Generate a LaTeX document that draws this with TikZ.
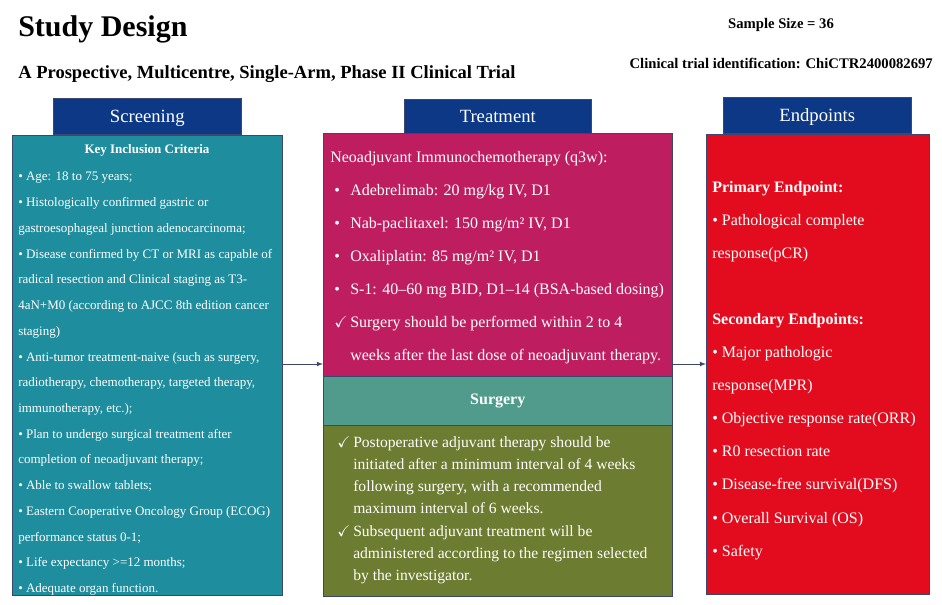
\documentclass[tikz,border=0pt]{standalone}
\usepackage{amsmath}
\usepackage{amssymb}
\usepackage{xcolor}
\usepackage{fontspec}
\setmainfont{Liberation Serif}
\usepackage{tikz}

\definecolor{tabblue}{RGB}{12,56,134}
\definecolor{scrteal}{RGB}{30,141,158}
\definecolor{trtpink}{RGB}{190,30,96}
\definecolor{surgteal}{RGB}{80,155,140}
\definecolor{surgolive}{RGB}{108,124,48}
\definecolor{endred}{RGB}{226,12,30}
\definecolor{edge}{RGB}{60,70,110}

\newcommand{\bul}{\hspace*{3pt}\makebox[12pt][l]{•}}
\newcommand{\chk}{\makebox[12pt][l]{$\checkmark$}}
\newcommand{\ind}{\hspace*{12pt}}

\begin{document}
\begin{tikzpicture}[x=0.75pt,y=0.75pt,yscale=-1,xscale=1,
  tab/.style={draw=edge,fill=tabblue,text=white,inner sep=0pt,anchor=north west,text height=12.5pt,text depth=3pt,font=\fontsize{14pt}{16pt}\selectfont},
  panel/.style={draw=edge,inner sep=0pt,anchor=north west},
  body/.style={text=white,inner sep=0pt,anchor=north west,align=left},
  link/.style={draw=edge,-latex,line width=0.6pt}]
\useasboundingbox (0,0) rectangle (942,604);

% headings
\node [anchor=base west,inner sep=0pt,font=\bfseries\fontsize{22.5pt}{26pt}\selectfont] (title) at (18,36) {Study Design};
\node [anchor=base west,inner sep=0pt,font=\bfseries\fontsize{13.9pt}{16pt}\selectfont] (design) at (18,78) {A Prospective, Multicentre, Single-Arm, Phase II Clinical Trial};
\node [anchor=base,inner sep=0pt,font=\bfseries\fontsize{11pt}{13pt}\selectfont] (size) at (781,28) {Sample Size = 36};
\node [anchor=base east,inner sep=0pt,font=\bfseries\fontsize{11pt}{13pt}\selectfont] (regid) at (933,68) {Clinical trial identification: ChiCTR2400082697};

% screening
\node [panel,fill=scrteal,minimum width=202.5pt,minimum height=345pt] (scr) at (12,135) {};
\node [tab,minimum width=141pt,minimum height=27pt] (scrtab) at (53,98) {Screening};
\node [body,anchor=center,font=\bfseries\fontsize{9.75pt}{12pt}\selectfont] (kic) at (147,150) {Key Inclusion Criteria};
\node [body,font=\fontsize{9.75pt}{19.3pt}\selectfont] (crit) at (18,172) {• Age: 18 to 75 years;\\
• Histologically confirmed gastric or\\
gastroesophageal junction adenocarcinoma;\\
• Disease confirmed by CT or MRI as capable of\\
radical resection and Clinical staging as T3-\\
4aN+M0 (according to AJCC 8th edition cancer\\
staging)\\
• Anti-tumor treatment-naive (such as surgery,\\
radiotherapy, chemotherapy, targeted therapy,\\
immunotherapy, etc.);\\
• Plan to undergo surgical treatment after\\
completion of neoadjuvant therapy;\\
• Able to swallow tablets;\\
• Eastern Cooperative Oncology Group (ECOG)\\
performance status 0-1;\\
• Life expectancy >=12 months;\\
• Adequate organ function.};

% treatment
\node [panel,fill=trtpink,minimum width=261.75pt,minimum height=182.25pt] (trt) at (323,133) {};
\node [panel,fill=surgteal,minimum width=261.75pt,minimum height=36.75pt,text=white,font=\bfseries\fontsize{12pt}{14pt}\selectfont] (surg) at (323,376) {Surgery};
\node [panel,fill=surgolive,minimum width=261.75pt,minimum height=128.25pt] (post) at (323,425) {};
\node [tab,minimum width=140.25pt,minimum height=25.5pt] (trttab) at (404,99) {Treatment};
\node [body,font=\fontsize{12pt}{24.75pt}\selectfont] (regimen) at (330,151) {Neoadjuvant Immunochemotherapy (q3w):\\
\bul Adebrelimab: 20 mg/kg IV, D1\\
\bul Nab-paclitaxel: 150 mg/m² IV, D1\\
\bul Oxaliplatin: 85 mg/m² IV, D1\\
\bul S-1: 40--60 mg BID, D1--14 (BSA-based dosing)\\
\hspace*{3pt}\chk Surgery should be performed within 2 to 4\\
\ind\hspace*{3pt}weeks after the last dose of neoadjuvant therapy.};
\node [body,font=\fontsize{11.7pt}{16.7pt}\selectfont] (adjuv) at (337,436) {\chk Postoperative adjuvant therapy should be\\
\ind initiated after a minimum interval of 4 weeks\\
\ind following surgery, with a recommended\\
\ind maximum interval of 6 weeks.\\
\chk Subsequent adjuvant treatment will be\\
\ind administered according to the regimen selected\\
\ind by the investigator.};

% endpoints
\node [panel,fill=endred,minimum width=167.25pt,minimum height=345pt] (endp) at (706,134) {};
\node [tab,minimum width=141pt,minimum height=27pt] (endtab) at (723,97) {Endpoints};
\node [body,font=\fontsize{12pt}{24.8pt}\selectfont] (outc) at (712,181) {\textbf{Primary Endpoint:}\\
• Pathological complete\\
response(pCR)\\
~\\
\textbf{Secondary Endpoints:}\\
• Major pathologic\\
response(MPR)\\
• Objective response rate(ORR)\\
• R0 resection rate\\
• Disease-free survival(DFS)\\
• Overall Survival (OS)\\
• Safety};

% arrows
\coordinate (lvl) at (0,364);
\draw [link] (scr.east |- lvl) -- (trt.west |- lvl);
\draw [link] (trt.east |- lvl) -- (endp.west |- lvl);
\end{tikzpicture}
\end{document}
